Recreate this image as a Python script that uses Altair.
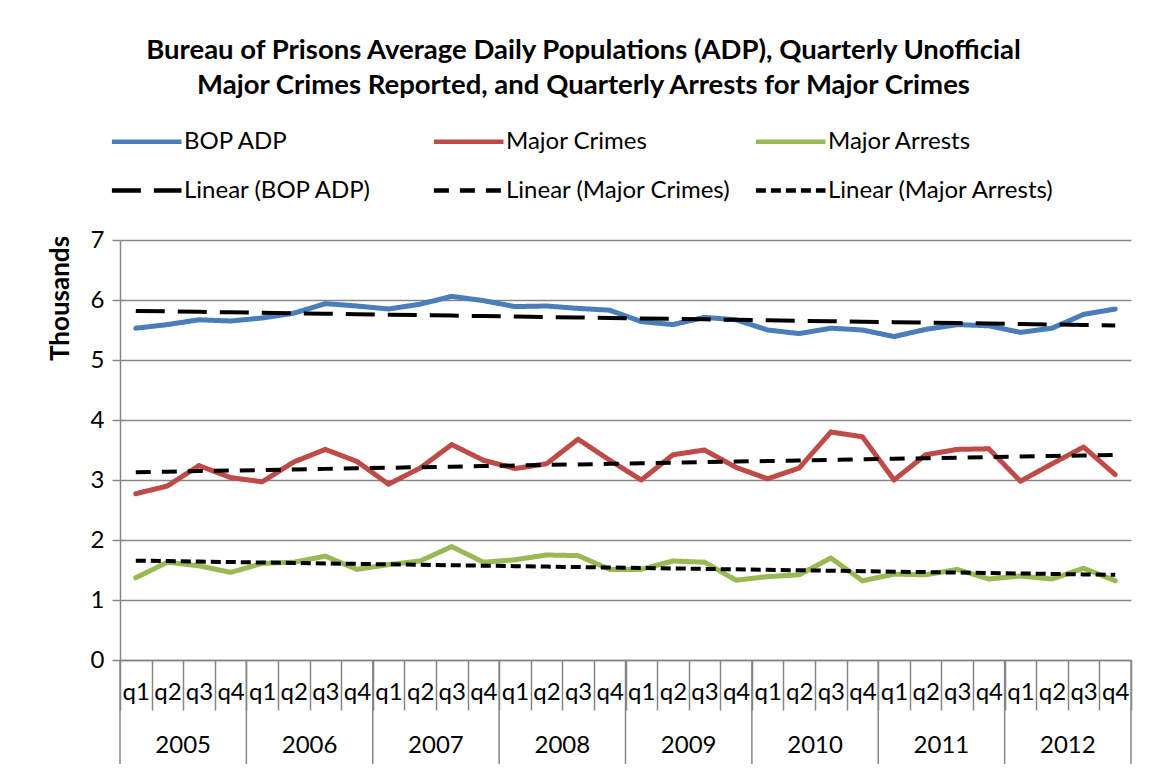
import altair as alt
import pandas as pd
import numpy as np

years = ["2005", "2006", "2007", "2008", "2009", "2010", "2011", "2012"]
quarters = ["q1", "q2", "q3", "q4"]
keys = [f"{y} {q}" for y in years for q in quarters]

bop_adp = [5.53, 5.59, 5.67, 5.65, 5.70, 5.78, 5.94, 5.90, 5.85, 5.93, 6.06, 5.99,
           5.89, 5.90, 5.86, 5.83, 5.64, 5.59, 5.71, 5.67, 5.50, 5.44, 5.53, 5.50,
           5.39, 5.51, 5.59, 5.57, 5.46, 5.53, 5.76, 5.85]
major_crimes = [2.77, 2.90, 3.24, 3.04, 2.97, 3.30, 3.51, 3.31, 2.93, 3.20, 3.59, 3.33,
                3.19, 3.27, 3.68, 3.33, 3.00, 3.42, 3.50, 3.21, 3.02, 3.20, 3.80, 3.72,
                3.00, 3.42, 3.51, 3.52, 2.98, 3.27, 3.55, 3.09]
major_arrests = [1.37, 1.63, 1.57, 1.46, 1.61, 1.63, 1.73, 1.51, 1.59, 1.65, 1.89, 1.63,
                 1.67, 1.75, 1.74, 1.51, 1.51, 1.65, 1.63, 1.33, 1.39, 1.42, 1.70, 1.32,
                 1.43, 1.42, 1.51, 1.35, 1.40, 1.35, 1.53, 1.32]

series_names = ["BOP ADP", "Major Crimes", "Major Arrests",
                "Linear (BOP ADP)", "Linear (Major Crimes)", "Linear (Major Arrests)"]
series_colors = ["#4A7EBB", "#BE4B48", "#98B954", "#000000", "#000000", "#000000"]
series_dashes = [[1, 0], [1, 0], [1, 0], [29, 13], [15, 11], [10, 5]]

FONT = "Lato"

# data table
raw = {"BOP ADP": bop_adp, "Major Crimes": major_crimes, "Major Arrests": major_arrests}
rows = []
idx = np.arange(len(keys))
trend_rows = []
for name, vals in raw.items():
    for k, v in zip(keys, vals):
        rows.append({"key": k, "series": name, "value": v})
    slope, inter = np.polyfit(idx, np.array(vals), 1)
    for i, k in enumerate(keys):
        trend_rows.append({"key": k, "series": f"Linear ({name})", "value": inter + slope * i})
df = pd.DataFrame(rows)
tdf = pd.DataFrame(trend_rows)

W, H = 1011, 420

xscale = alt.Scale(type="band", domain=keys, paddingInner=0, paddingOuter=0)

legend = alt.Legend(
    title=None, orient="none", legendX=35, legendY=-113, columns=3, direction="horizontal",
    symbolType="M-4.8,0H1", symbolSize=576, symbolStrokeWidth=4.5,
    labelFont=FONT, labelFontSize=24, labelColor="black", labelOffset=0,
    columnPadding=13, rowPadding=22, gridAlign="all", padding=0, labelLimit=0,
)

color = alt.Color("series:N", scale=alt.Scale(domain=series_names, range=series_colors), legend=legend)
dash = alt.StrokeDash("series:N", scale=alt.Scale(domain=series_names, range=series_dashes), legend=legend)

yenc = alt.Y(
    "value:Q",
    scale=alt.Scale(domain=[0, 7]),
    axis=alt.Axis(
        values=[0, 1, 2, 3, 4, 5, 6, 7], format="d", title="Thousands", grid=True,
        gridColor="#868686", gridWidth=1.5, domainColor="#868686", domainWidth=1.5,
        tickColor="#868686", tickWidth=1.5, tickSize=8,
        labelFont=FONT, labelFontSize=24, labelPadding=8, labelColor="black",
        titleFont=FONT, titleFontSize=26, titleFontWeight="bold", titleColor="black",
        titleX=-60, titleY=58, titleAngle=270, titleBaseline="middle", titleAlign="center",
    ),
)

xenc = alt.X(
    "key:N", scale=xscale, bandPosition=0.5,
    axis=alt.Axis(
        labelExpr="split(datum.label, ' ')[1]", title=None, tickBand="extent",
        tickSize=50, tickColor="#868686", tickWidth=1.5, domainColor="#868686",
        domainWidth=1.5, labelPadding=-30, labelFont=FONT, labelFontSize=24,
        labelAngle=0, grid=False, labelColor="black",
    ),
)

data_lines = alt.Chart(df).mark_line(strokeWidth=5, strokeCap="round", strokeJoin="round").encode(
    x=xenc, y=yenc, color=color, strokeDash=dash,
)
trend_lines = alt.Chart(tdf).mark_line(strokeWidth=4).encode(
    x=alt.X("key:N", scale=xscale, bandPosition=0.5), y=alt.Y("value:Q"), color=color, strokeDash=dash,
)

year_df = pd.DataFrame({"year": years, "start": [f"{y} q1" for y in years], "mid": [f"{y} q3" for y in years]})
end_df = pd.DataFrame({"end": [keys[-1]]})

year_rules = alt.Chart(year_df).mark_rule(color="#868686", strokeWidth=1.5).encode(
    x=alt.X("start:N", scale=xscale, bandPosition=0), y=alt.value(H), y2=alt.value(H + 110),
)
end_rule = alt.Chart(end_df).mark_rule(color="#868686", strokeWidth=1.5).encode(
    x=alt.X("end:N", scale=xscale, bandPosition=1), y=alt.value(H), y2=alt.value(H + 110),
)
year_text = alt.Chart(year_df).mark_text(font=FONT, fontSize=24, color="black", baseline="middle").encode(
    x=alt.X("mid:N", scale=xscale, bandPosition=0), y=alt.value(H + 86), text="year:N",
)

chart = alt.layer(data_lines, trend_lines, year_rules, end_rule, year_text).properties(
    width=W, height=H,
    autosize=alt.AutoSizeParams(type="none"),
    padding={"left": 112, "top": 232, "right": 15, "bottom": 104},
    title=alt.Title(
        ["Bureau of Prisons Average Daily Populations (ADP), Quarterly Unofficial",
         "Major Crimes Reported, and Quarterly Arrests for Major Crimes"],
        font=FONT, fontSize=27.5, fontWeight="bold", anchor="middle", frame="group",
        dx=-42, lineHeight=35, offset=28, color="black",
    ),
).configure(font=FONT, background="white").configure_view(strokeWidth=0)

chart.save("out.html", embed_options={"renderer": "svg", "actions": False})
